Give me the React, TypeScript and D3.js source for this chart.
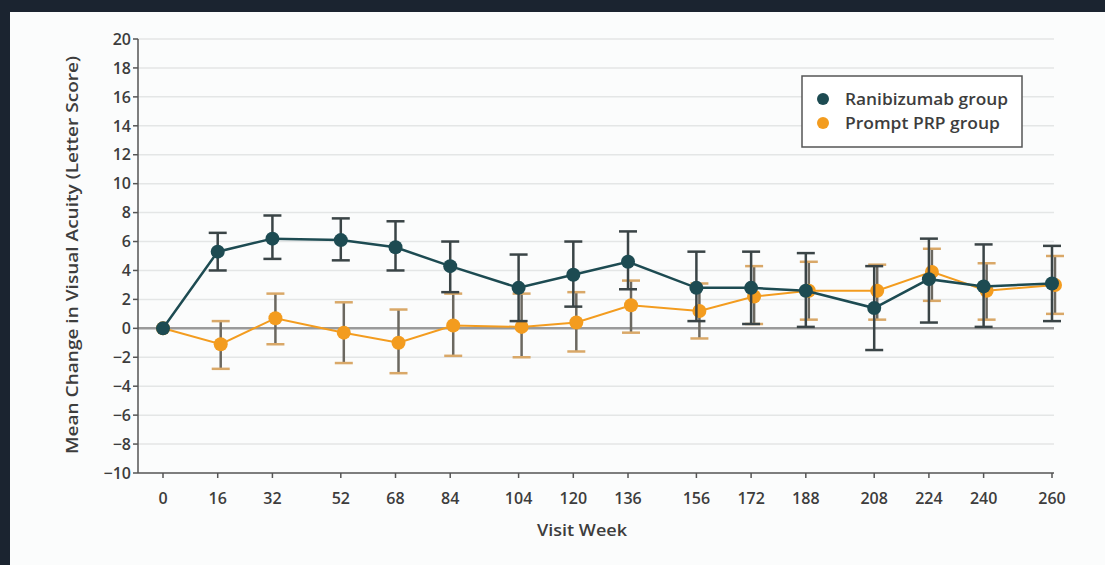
import React from "react";
import * as d3 from "d3";

const weeks = [0, 16, 32, 52, 68, 84, 104, 120, 136, 156, 172, 188, 208, 224, 240, 260];
const ranibizumabMean = [0, 5.3, 6.2, 6.1, 5.6, 4.3, 2.8, 3.7, 4.6, 2.8, 2.8, 2.6, 1.4, 3.4, 2.9, 3.1];
const ranibizumabLow = [0, 4.0, 4.8, 4.7, 4.0, 2.5, 0.5, 1.5, 2.7, 0.5, 0.3, 0.1, -1.5, 0.4, 0.1, 0.5];
const ranibizumabHigh = [0, 6.6, 7.8, 7.6, 7.4, 6.0, 5.1, 6.0, 6.7, 5.3, 5.3, 5.2, 4.3, 6.2, 5.8, 5.7];
const prpMean = [0, -1.1, 0.7, -0.3, -1.0, 0.2, 0.1, 0.4, 1.6, 1.2, 2.2, 2.6, 2.6, 3.9, 2.6, 3.0];
const prpLow = [0, -2.8, -1.1, -2.4, -3.1, -1.9, -2.0, -1.6, -0.3, -0.7, 0.3, 0.6, 0.6, 1.9, 0.6, 1.0];
const prpHigh = [0, 0.5, 2.4, 1.8, 1.3, 2.4, 2.4, 2.5, 3.3, 3.1, 4.3, 4.6, 4.4, 5.5, 4.5, 5.0];
const yTicks = [-10, -8, -6, -4, -2, 0, 2, 4, 6, 8, 10, 12, 14, 16, 18, 20];
const legendLabels = ["Ranibizumab group", "Prompt PRP group"];

const W = 1105;
const H = 565;
const TEAL = "#1d4b52";
const ORANGE = "#f39c1f";
const FONT = "'Open Sans', 'Noto Sans', sans-serif";
const TXT = "#3d3d3d";

export default function App() {
  const x = d3.scaleLinear().domain([0, 260]).range([163, 1052]);
  const y = d3.scaleLinear().domain([-10, 20]).range([473, 39]);
  const axisLeft = 138;
  const gridRight = 1054;
  const capHalf = 9;
  const dodge = 3;

  const line = d3
    .line<[number, number]>()
    .x((d) => d[0])
    .y((d) => d[1]);

  const tealPts: [number, number][] = weeks.map((w, i) => [x(w), y(ranibizumabMean[i])]);
  const orangePts: [number, number][] = weeks.map((w, i) => [x(w) + (i === 0 ? 0 : dodge), y(prpMean[i])]);

  const errBars = (lows: number[], highs: number[], off: number, stem: string, cap: string, key: string) =>
    weeks.map((w, i) => {
      if (i === 0) return null;
      const cx = x(w) + off;
      return (
        <g key={key + i}>
          <line x1={cx} x2={cx} y1={y(lows[i])} y2={y(highs[i])} stroke={stem} strokeWidth={2.5} />
          <line x1={cx - capHalf} x2={cx + capHalf} y1={y(lows[i])} y2={y(lows[i])} stroke={cap} strokeWidth={2.5} />
          <line x1={cx - capHalf} x2={cx + capHalf} y1={y(highs[i])} y2={y(highs[i])} stroke={cap} strokeWidth={2.5} />
        </g>
      );
    });

  return (
    <svg width={W} height={H} style={{ position: "absolute", left: 0, top: 0, display: "block" }}>
      <rect x={0} y={0} width={W} height={H} fill="#1b2430" />
      <rect x={10} y={12} width={W - 10} height={H - 12} fill="#fbfcfc" />

      {/* gridlines */}
      {yTicks.map((t) =>
        t === -10 ? null : (
          <line
            key={"g" + t}
            x1={axisLeft}
            x2={gridRight}
            y1={y(t)}
            y2={y(t)}
            stroke={t === 0 ? "#9a9a9a" : "#e4e6e6"}
            strokeWidth={t === 0 ? 2.5 : 1.5}
          />
        )
      )}

      {/* y axis */}
      <line x1={axisLeft} x2={axisLeft} y1={y(20)} y2={y(-10)} stroke="#555" strokeWidth={1.5} />
      {yTicks.map((t) => (
        <g key={"yt" + t}>
          <line x1={axisLeft - 5} x2={axisLeft} y1={y(t)} y2={y(t)} stroke="#555" strokeWidth={1.5} />
          <text
            x={axisLeft - 7}
            y={y(t)}
            dy="0.36em"
            textAnchor="end"
            fontFamily={FONT}
            fontSize={16}
            fontWeight={600}
            fill={TXT}
          >
            {t < 0 ? "\u2212" + Math.abs(t) : t}
          </text>
        </g>
      ))}

      {/* x axis */}
      <line x1={axisLeft} x2={gridRight} y1={y(-10)} y2={y(-10)} stroke="#555" strokeWidth={1.5} />
      {weeks.map((w) => (
        <g key={"xt" + w}>
          <line x1={x(w)} x2={x(w)} y1={y(-10)} y2={y(-10) + 5} stroke="#555" strokeWidth={1.5} />
          <text
            x={x(w)}
            y={y(-10) + 31}
            textAnchor="middle"
            fontFamily={FONT}
            fontSize={16}
            fontWeight={600}
            fill={TXT}
          >
            {w}
          </text>
        </g>
      ))}

      <text
        x={582}
        y={536}
        textAnchor="middle"
        fontFamily={FONT}
        fontSize={17}
        fontWeight={600}
        fill={TXT}
        textLength={90}
        lengthAdjust="spacingAndGlyphs"
      >
        Visit Week
      </text>
      <text
        transform={`translate(78, 255) rotate(-90)`}
        textAnchor="middle"
        fontFamily={FONT}
        fontSize={17}
        fontWeight={600}
        fill={TXT}
        textLength={398}
        lengthAdjust="spacingAndGlyphs"
      >
        Mean Change in Visual Acuity (Letter Score)
      </text>

      {/* orange series */}
      {errBars(prpLow, prpHigh, dodge, "#6b6860", "#d9a868", "o")}
      <path d={line(orangePts) || ""} fill="none" stroke={ORANGE} strokeWidth={2} />
      {orangePts.map((p, i) => (
        <circle key={"oc" + i} cx={p[0]} cy={p[1]} r={7} fill={ORANGE} />
      ))}

      {/* teal series */}
      {errBars(ranibizumabLow, ranibizumabHigh, 0, "#3a4446", "#3a4446", "t")}
      <path d={line(tealPts) || ""} fill="none" stroke={TEAL} strokeWidth={2.5} />
      {tealPts.map((p, i) => (
        <circle key={"tc" + i} cx={p[0]} cy={p[1]} r={7} fill={TEAL} />
      ))}

      {/* legend */}
      <rect x={802} y={76} width={220} height={71} fill="#fff" stroke="#555" strokeWidth={1.5} />
      {legendLabels.map((l, i) => (
        <g key={"lg" + i}>
          <circle cx={823} cy={99 + i * 24} r={6} fill={i === 0 ? TEAL : ORANGE} />
          <text
            x={845}
            y={99 + i * 24}
            dy="0.36em"
            fontFamily={FONT}
            fontSize={16}
            fontWeight={600}
            fill={TXT}
            textLength={i === 0 ? 163 : 155}
            lengthAdjust="spacingAndGlyphs"
          >
            {l}
          </text>
        </g>
      ))}
    </svg>
  );
}
